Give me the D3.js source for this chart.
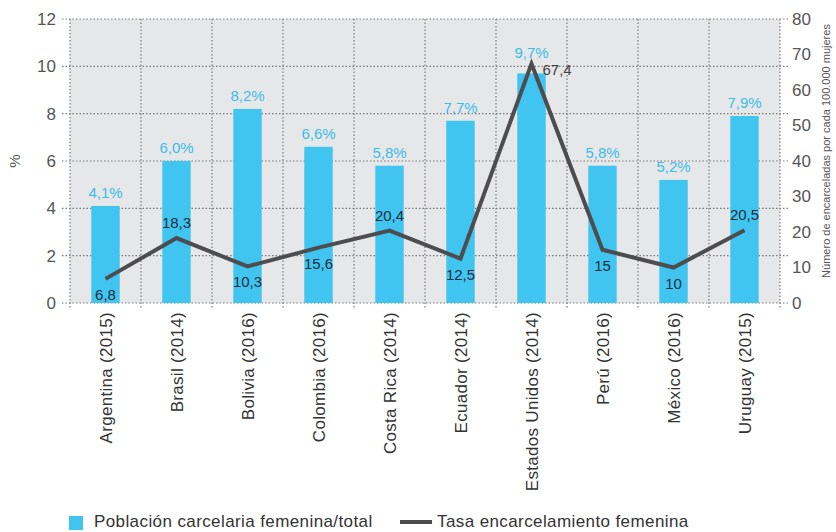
<!DOCTYPE html>
<head>
  <meta charset="utf-8">
  <script src="https://d3js.org/d3.v7.min.js"></script>
  <style>
    body { margin: 0; background: #fff; }
    text { font-family: "Liberation Sans", Arial, sans-serif; }
  </style>
</head>
<body>
  <script>
    var countries = ["Argentina (2015)", "Brasil (2014)", "Bolivia (2016)", "Colombia (2016)", "Costa Rica (2014)",
      "Ecuador (2014)", "Estados Unidos (2014)", "Perú (2016)", "México (2016)", "Uruguay (2015)"];
    var pctFemale = [4.1, 6.0, 8.2, 6.6, 5.8, 7.7, 9.7, 5.8, 5.2, 7.9];
    var rateFemale = [6.8, 18.3, 10.3, 15.6, 20.4, 12.5, 67.4, 15, 10, 20.5];
    // where each rate label sits relative to its point
    var ratePos = ["below", "above", "below", "below", "above", "below", "right", "below", "below", "above"];
    var leftTicks = [0, 2, 4, 6, 8, 10, 12];
    var rightTicks = [0, 10, 20, 30, 40, 50, 60, 70, 80];

    var margin = { top: 19, right: 56, bottom: 229, left: 70 },
      width = 836 - margin.left - margin.right,
      height = 532 - margin.top - margin.bottom;

    var svg = d3.select('body').append('svg')
      .attr('width', 836).attr('height', 532);
    var g = svg.append('g').attr('transform', 'translate(' + margin.left + ',' + margin.top + ')');

    var x = d3.scaleBand().domain(countries).range([0, width]).paddingInner(0.6).paddingOuter(0.3);
    var band = d3.scaleBand().domain(countries).range([0, width]);
    var yL = d3.scaleLinear().domain([0, 12]).range([height, 0]);
    var yR = d3.scaleLinear().domain([0, 80]).range([height, 0]);

    var fmt = function (v) { return d3.format('.1f')(v).replace('.', ','); };
    var fmtR = function (v) { return String(v).replace('.', ','); };

    g.append('rect').attr('width', width).attr('height', height).attr('fill', '#e6e7e8');

    // horizontal grid
    g.selectAll('.hgrid').data(leftTicks).enter().append('line')
      .attr('x1', -8).attr('x2', width + 8)
      .attr('y1', d => yL(d)).attr('y2', d => yL(d))
      .attr('stroke', '#7a7a7a').attr('stroke-width', 1.2).attr('stroke-dasharray', '1.5,2');
    // vertical grid
    g.selectAll('.vgrid').data(d3.range(countries.length + 1)).enter().append('line')
      .attr('x1', d => d * band.step()).attr('x2', d => d * band.step())
      .attr('y1', 0).attr('y2', height + 6)
      .attr('stroke', '#7a7a7a').attr('stroke-width', 1.2).attr('stroke-dasharray', '1.5,2');

    // axes labels
    g.selectAll('.lt').data(leftTicks).enter().append('text')
      .attr('x', -14).attr('y', d => yL(d)).attr('dy', '0.35em')
      .attr('text-anchor', 'end').attr('font-size', 17).attr('fill', '#555')
      .text(d => d);
    g.selectAll('.rt').data(rightTicks).enter().append('text')
      .attr('x', width + 12).attr('y', d => yR(d)).attr('dy', '0.35em')
      .attr('font-size', 17).attr('fill', '#555')
      .text(d => d);

    svg.append('text').attr('transform', 'translate(20,' + (margin.top + height / 2) + ') rotate(-90)')
      .attr('text-anchor', 'middle').attr('font-size', 15).attr('fill', '#555').text('%');
    svg.append('text').attr('transform', 'translate(830,' + (margin.top + height / 2 - 10) + ') rotate(-90)')
      .attr('text-anchor', 'middle').attr('font-size', 11).attr('fill', '#555')
      .text('Número de encarceladas por cada 100.000 mujeres');

    // bars
    g.selectAll('.bar').data(pctFemale).enter().append('rect')
      .attr('x', (d, i) => x(countries[i])).attr('width', x.bandwidth())
      .attr('y', d => yL(d)).attr('height', d => height - yL(d))
      .attr('fill', '#40c4f0');
    g.selectAll('.blab').data(pctFemale).enter().append('text')
      .attr('x', (d, i) => x(countries[i]) + x.bandwidth() / 2)
      .attr('y', (d, i) => yL(d) - (ratePos[i] === 'right' ? 15 : 8))
      .attr('text-anchor', 'middle').attr('font-size', 15).attr('fill', '#3bbde9')
      .text(d => fmt(d) + '%');

    // line
    var cx = i => band(countries[i]) + band.bandwidth() / 2;
    var line = d3.line().x((d, i) => cx(i)).y(d => yR(d));
    g.append('path').datum(rateFemale).attr('d', line)
      .attr('fill', 'none').attr('stroke', '#4d4d4f').attr('stroke-width', 4);
    g.selectAll('.llab').data(rateFemale).enter().append('text')
      .attr('x', (d, i) => ratePos[i] === 'right' ? cx(i) + 11 : cx(i))
      .attr('y', (d, i) => ratePos[i] === 'above' ? yR(d) - 10 : ratePos[i] === 'below' ? yR(d) + 21 : yR(d) + 11)
      .attr('text-anchor', (d, i) => ratePos[i] === 'right' ? 'start' : 'middle')
      .attr('font-size', 15).attr('fill', (d, i) => ratePos[i] === 'right' ? '#444' : '#1d2f3e')
      .text(d => fmtR(d));

    // x labels
    g.selectAll('.xl').data(countries).enter().append('text')
      .attr('transform', (d, i) => 'translate(' + (cx(i) + 6) + ',' + (height + 9) + ') rotate(-90)')
      .attr('text-anchor', 'end').attr('font-size', 17).attr('letter-spacing', 0.3).attr('fill', '#333')
      .text(d => d);

    // legend
    var leg = svg.append('g');
    leg.append('rect').attr('x', 69).attr('y', 516).attr('width', 14).attr('height', 14).attr('fill', '#40c4f0');
    leg.append('text').attr('x', 94).attr('y', 527).attr('font-size', 17).attr('letter-spacing', 0.4).attr('fill', '#333')
      .text('Población carcelaria femenina/total');
    leg.append('line').attr('x1', 400).attr('x2', 432).attr('y1', 522).attr('y2', 522)
      .attr('stroke', '#4d4d4f').attr('stroke-width', 4);
    leg.append('text').attr('x', 437).attr('y', 527).attr('font-size', 17).attr('letter-spacing', 0.4).attr('fill', '#333')
      .text('Tasa encarcelamiento femenina');
  </script>
</body>
